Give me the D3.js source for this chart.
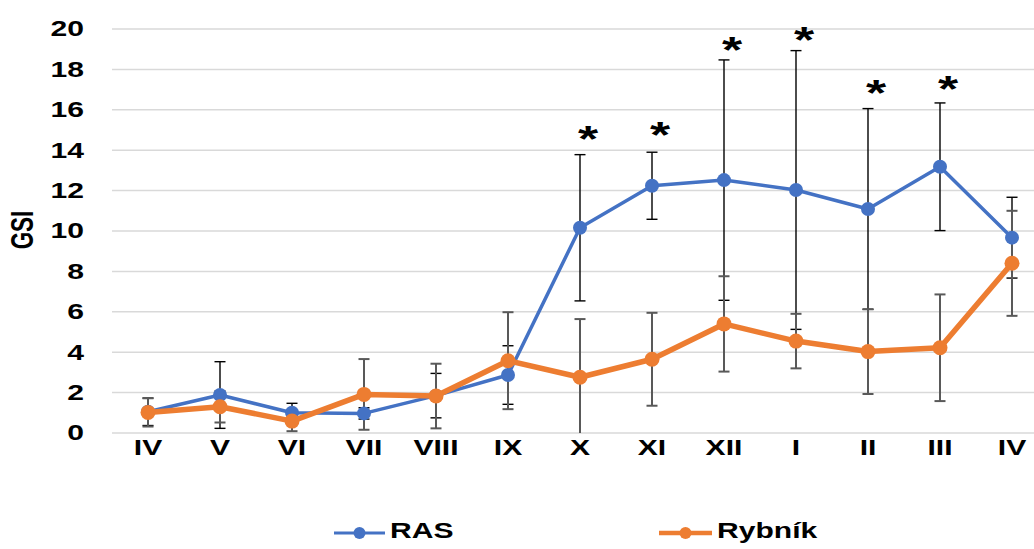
<!DOCTYPE html>
<html>
<head>
<meta charset="utf-8">
<script src="https://cdn.jsdelivr.net/npm/d3@7"></script>
<style>
  html, body { margin: 0; padding: 0; background: #fff; }
  svg { display: block; }
  text { font-family: "Liberation Sans", Arial, sans-serif; font-weight: bold; }
</style>
</head>
<body>
<svg id="chart" width="1034" height="549"></svg>
<script>
const months = ["IV","V","VI","VII","VIII","IX","X","XI","XII","I","II","III","IV"];
const rasValues = [1.05, 1.88, 1.0, 0.97, 1.85, 2.87, 10.16, 12.24, 12.52, 12.03, 11.09, 13.18, 9.67];
const rasErr    = [0.68, 1.65, 0.47, 0.28, 1.1, 1.45, 3.62, 1.66, 5.95, 6.9, 4.97, 3.16, 2.0];
const rybValues = [1.02, 1.30, 0.59, 1.91, 1.83, 3.58, 2.76, 3.65, 5.40, 4.55, 4.03, 4.22, 8.40];
const rybErr    = [0.7, 0.78, 0.5, 1.75, 1.6, 2.4, 2.88, 2.3, 2.36, 1.35, 2.1, 2.64, 2.6];
const starIdx   = [6, 7, 8, 9, 10, 11];
const starLevel = [14.92, 15.1, 19.3, 19.8, 17.2, 17.4];
const yTicks    = [0, 2, 4, 6, 8, 10, 12, 14, 16, 18, 20];
const seriesNames = ["RAS", "Rybník"];

const STRETCH = "scale(1.4,1)";
const svg = d3.select("#chart");
const idx = months.map((m, i) => i);

const x = d3.scaleBand().domain(idx).range([112, 1048]);
const cx = i => x(i) + x.bandwidth() / 2;
const y = d3.scaleLinear().domain([0, 20]).range([433, 29]);

// gridlines
svg.append("g").selectAll("line").data(yTicks).join("line")
  .attr("x1", 112).attr("x2", 1048)
  .attr("y1", d => y(d)).attr("y2", d => y(d))
  .attr("stroke", "#d9d9d9").attr("stroke-width", 1.5);

// y axis labels
const yAxis = d3.axisLeft(y).tickValues(yTicks).tickSize(0).tickPadding(0);
const gy = svg.append("g").attr("transform", "translate(84,0)").call(yAxis);
gy.select(".domain").remove();
gy.selectAll("text").attr("font-size", 21.5).attr("fill", "#000").attr("transform", STRETCH)
  .style("font-family", "'Liberation Sans', Arial, sans-serif").style("font-weight", "bold");

// x axis labels
const xAxis = d3.axisBottom(x).tickFormat(i => months[i]).tickSize(0).tickPadding(0);
const gx = svg.append("g").attr("transform", "translate(0,440)").call(xAxis);
gx.select(".domain").remove();
gx.selectAll("text").attr("font-size", 21.5).attr("fill", "#000").attr("dy", "0.71em").attr("transform", STRETCH)
  .style("font-family", "'Liberation Sans', Arial, sans-serif").style("font-weight", "bold");

// y title
svg.append("text").attr("transform", "translate(33,230) scale(1.4,1) rotate(-90)")
  .attr("text-anchor", "middle").attr("font-size", 22.5).attr("fill", "#000").text("GSI");

function errBars(vals, errs, color, w) {
  const g = svg.append("g").attr("stroke", color).attr("stroke-width", w).attr("fill", "none");
  idx.forEach(i => {
    const top = vals[i] + errs[i];
    const botRaw = vals[i] - errs[i];
    const bot = Math.max(0, botRaw);
    g.append("line").attr("x1", cx(i)).attr("x2", cx(i)).attr("y1", y(top)).attr("y2", y(bot));
    g.append("line").attr("x1", cx(i) - 5.5).attr("x2", cx(i) + 5.5).attr("y1", y(top)).attr("y2", y(top));
    if (botRaw >= 0)
      g.append("line").attr("x1", cx(i) - 5.5).attr("x2", cx(i) + 5.5).attr("y1", y(bot)).attr("y2", y(bot));
  });
}
errBars(rasValues, rasErr, "#000", 1.4);
errBars(rybValues, rybErr, "#595959", 2);

function series(vals, color, lw, r) {
  const line = d3.line().x((d, i) => cx(i)).y(d => y(d));
  svg.append("path").datum(vals).attr("d", line).attr("fill", "none")
    .attr("stroke", color).attr("stroke-width", lw).attr("stroke-linejoin", "round");
  svg.append("g").selectAll("circle").data(vals).join("circle")
    .attr("cx", (d, i) => cx(i)).attr("cy", d => y(d)).attr("r", r).attr("fill", color);
}
series(rasValues, "#4472c4", 3.5, 7);
series(rybValues, "#ed7d31", 5.5, 7.5);

// significance stars
svg.append("g").selectAll("text").data(starIdx).join("text")
  .attr("transform", (d, k) => `translate(${cx(d) + 8},${y(starLevel[k]) + 20}) ${STRETCH}`)
  .attr("text-anchor", "middle").attr("font-size", 37).attr("fill", "#000").text("*");

// legend
const legend = [
  { name: seriesNames[0], color: "#4472c4", x1: 334, x2: 385, lw: 3, tx: 390 },
  { name: seriesNames[1], color: "#ed7d31", x1: 659, x2: 712, lw: 4.5, tx: 717 }
];
const lg = svg.append("g");
legend.forEach(l => {
  lg.append("line").attr("x1", l.x1).attr("x2", l.x2).attr("y1", 533).attr("y2", 533)
    .attr("stroke", l.color).attr("stroke-width", l.lw);
  lg.append("circle").attr("cx", (l.x1 + l.x2) / 2).attr("cy", 533).attr("r", 6).attr("fill", l.color);
  lg.append("text").attr("transform", `translate(${l.tx},537.5) ${STRETCH}`)
    .attr("font-size", 21.5).attr("fill", "#000").text(l.name);
});
</script>
</body>
</html>
